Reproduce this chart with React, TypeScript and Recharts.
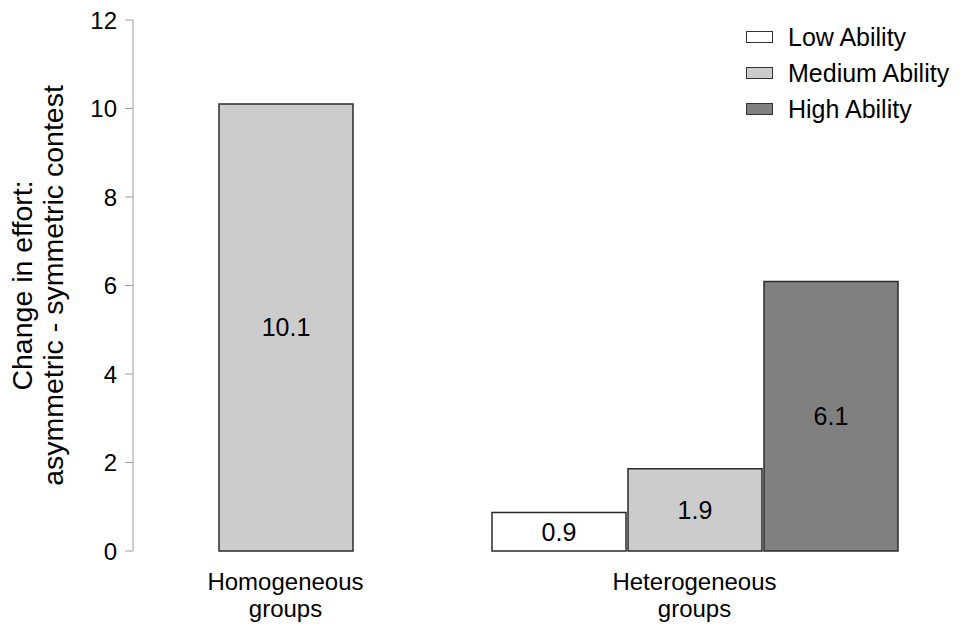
import { BarChart, Bar, XAxis, YAxis, Legend, LabelList, Label } from "recharts"

const FONT = '"Liberation Sans", Arial, Helvetica, sans-serif'

const groups = ["Homogeneous\ngroups", "Heterogeneous\ngroups"]
const seriesNames = ["Low Ability", "Medium Ability", "High Ability"]
const lowAbility = [null, 0.87]
const mediumAbility = [10.1, 1.86]
const highAbility = [null, 6.09]
const yTicks = [0, 2, 4, 6, 8, 10, 12]

const data = groups.map((group, i) => ({
  group,
  low: lowAbility[i],
  medium: mediumAbility[i],
  high: highAbility[i],
}))

const formatValue = (v: unknown) =>
  v === null || v === undefined || v === "" ? "" : Number(v).toFixed(1)

function GroupTick({ x, y, payload }: any) {
  const lines = String(payload.value).split("\n")
  return (
    <g>
      {lines.map((line, i) => (
        <text
          key={i}
          x={x}
          y={y + 39 + i * 27}
          textAnchor="middle"
          fontFamily={FONT}
          fontSize={24}
          fill="#000"
        >
          {line}
        </text>
      ))}
    </g>
  )
}

function YAxisTitle({ viewBox }: any) {
  const cy = viewBox ? viewBox.y + viewBox.height / 2 : 286
  return (
    <g transform={`translate(0, ${cy}) rotate(-90)`}>
      <text textAnchor="middle" fontFamily={FONT} fontSize={28.5} fill="#000">
        <tspan x={0} y={32}>Change in effort:</tspan>
        <tspan x={0} y={63}>asymmetric - symmetric contest</tspan>
      </text>
    </g>
  )
}

function AbilityLegend({ payload }: any) {
  const items = [...(payload ?? [])].sort(
    (a: any, b: any) => seriesNames.indexOf(a.value) - seriesNames.indexOf(b.value)
  )
  return (
    <div style={{ fontFamily: FONT, fontSize: 25, color: "#000" }}>
      {items.map((entry: any) => (
        <div
          key={entry.value}
          style={{ display: "flex", alignItems: "center", height: 36 }}
        >
          <span
            style={{
              width: 25,
              height: 10,
              background: entry.color,
              border: "1.5px solid #333",
              marginRight: 15,
            }}
          />
          <span>{entry.value}</span>
        </div>
      ))}
    </div>
  )
}

export default function App() {
  return (
    <div style={{ position: "absolute", left: 0, top: 0, background: "#fff" }}>
      <BarChart
        width={966}
        height={628}
        data={data}
        margin={{ top: 20, right: 67, bottom: 7, left: 5 }}
        barSize={134}
        barGap={2}
      >
        <XAxis
          dataKey="group"
          axisLine={false}
          tickLine={false}
          tickSize={0}
          tickMargin={0}
          height={70}
          padding={{ left: -52, right: 0 }}
          tick={<GroupTick />}
          interval={0}
        />
        <YAxis
          width={128}
          domain={[0, 12]}
          ticks={yTicks}
          stroke="#a0a0a0"
          tickSize={8}
          tickMargin={8}
          tick={{ fill: "#000", fontSize: 24, fontFamily: FONT }}
        >
          <Label content={<YAxisTitle />} />
        </YAxis>
        <Legend
          layout="horizontal"
          verticalAlign="middle"
          align="center"
          itemSorter={null}
          wrapperStyle={{ left: 746, top: 19, width: 220, height: 108 }}
          content={<AbilityLegend />}
        />
        <Bar dataKey="low" name={seriesNames[0]} fill="#ffffff" stroke="#2b2b2b" strokeWidth={1.5} isAnimationActive={false}>
          <LabelList dataKey="low" position="center" formatter={formatValue} fill="#000" fontSize={25} fontFamily={FONT} />
        </Bar>
        <Bar dataKey="medium" name={seriesNames[1]} fill="#cccccc" stroke="#2b2b2b" strokeWidth={1.5} isAnimationActive={false}>
          <LabelList dataKey="medium" position="center" formatter={formatValue} fill="#000" fontSize={25} fontFamily={FONT} />
        </Bar>
        <Bar dataKey="high" name={seriesNames[2]} fill="#808080" stroke="#2b2b2b" strokeWidth={1.5} isAnimationActive={false}>
          <LabelList dataKey="high" position="center" formatter={formatValue} fill="#000" fontSize={25} fontFamily={FONT} />
        </Bar>
      </BarChart>
    </div>
  )
}
